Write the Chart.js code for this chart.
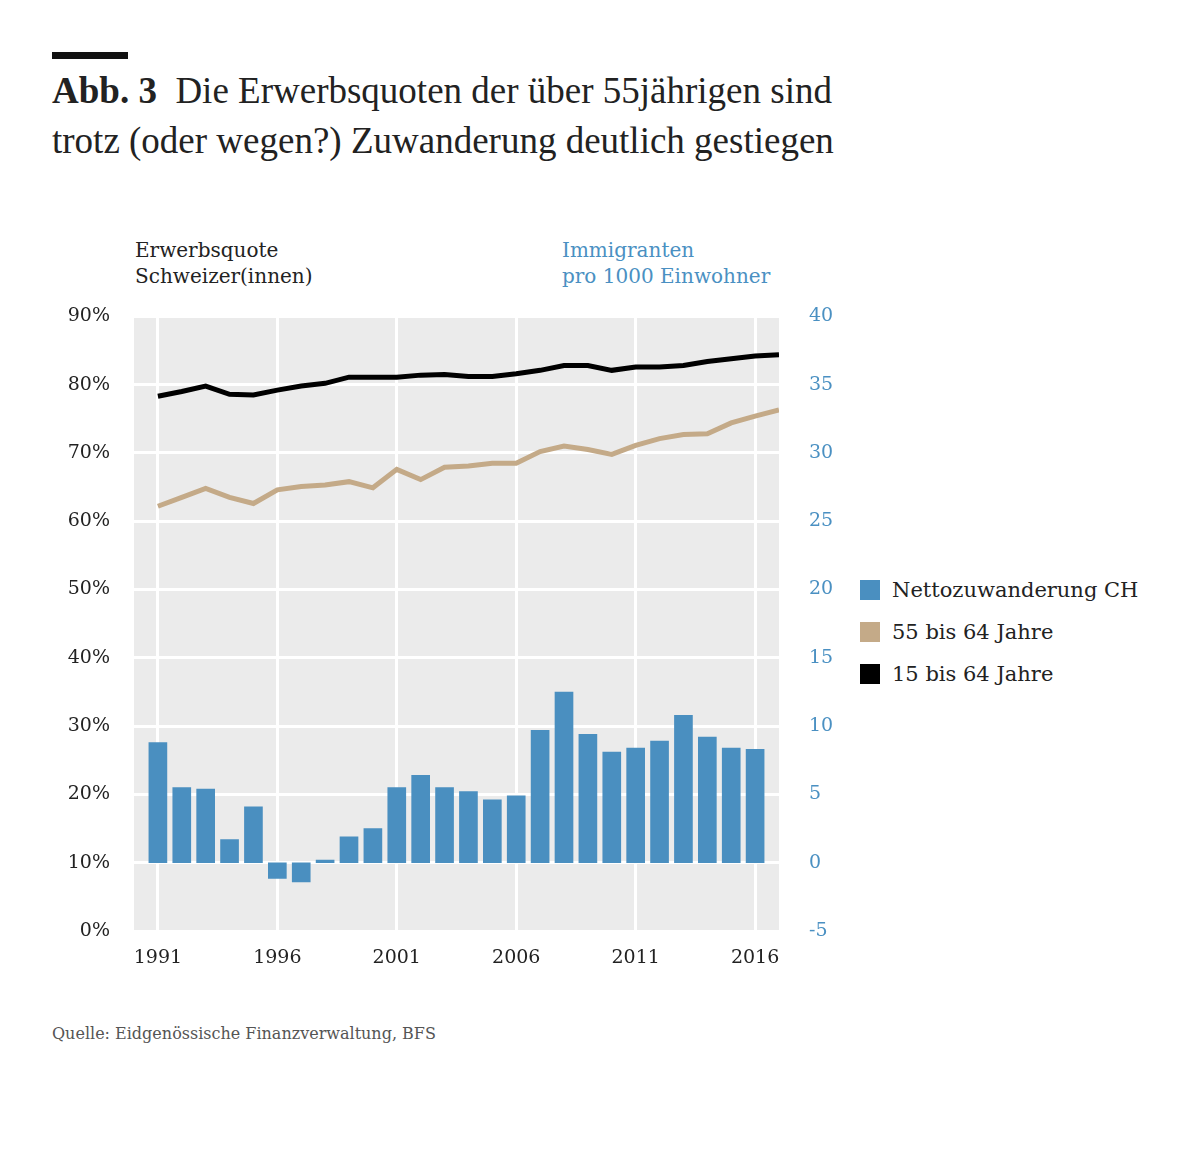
<!DOCTYPE html>
<html><head><meta charset="utf-8">
<script src="https://cdn.jsdelivr.net/npm/chart.js@4"></script>
<style>
body{margin:0;width:1204px;height:1174px;background:#fff;font-family:"DejaVu Serif",serif;position:relative;color:#222}
.abs{position:absolute}
#bar{left:52px;top:52px;width:76px;height:7px;background:#111}
#title{left:52px;top:66px;line-height:50px;font-family:"Liberation Serif",serif;font-size:37px}
#lt{left:135px;top:237px;font-size:20px;line-height:26px}
#rt{left:562px;top:237px;font-size:20px;line-height:26px;color:#4a90c2}
#src{left:52px;top:1024px;font-size:16px;color:#555}
.leg{left:860px;font-size:21px}
.leg span{display:inline-block;width:20px;height:20px;margin-right:12px;vertical-align:-3px}
#wrap{left:50px;top:281px;width:800px;height:710px}
</style></head><body>
<div class="abs" id="bar"></div>
<div class="abs" id="title"><b>Abb. 3</b>&nbsp; Die Erwerbsquoten der über 55jährigen sind<br>trotz (oder wegen?) Zuwanderung deutlich gestiegen</div>
<div class="abs" id="lt">Erwerbsquote<br>Schweizer(innen)</div>
<div class="abs" id="rt">Immigranten<br>pro 1000 Einwohner</div>
<div class="abs leg" style="top:578px"><span style="background:#4a8fc0"></span>Nettozuwanderung CH</div>
<div class="abs leg" style="top:620px"><span style="background:#c4aa88"></span>55 bis 64 Jahre</div>
<div class="abs leg" style="top:662px"><span style="background:#000"></span>15 bis 64 Jahre</div>
<div class="abs" id="src">Quelle: Eidgenössische Finanzverwaltung, BFS</div>
<div class="abs" id="wrap"><canvas id="c"></canvas></div>
<script>
const years=[1991,1992,1993,1994,1995,1996,1997,1998,1999,2000,2001,2002,2003,2004,2005,2006,2007,2008,2009,2010,2011,2012,2013,2014,2015,2016,2017]
const q15=[78.3,79.0,79.8,78.6,78.5,79.2,79.8,80.2,81.1,81.1,81.1,81.4,81.5,81.2,81.2,81.6,82.1,82.8,82.8,82.1,82.6,82.6,82.8,83.4,83.8,84.2,84.4]
const q55=[62.2,63.5,64.8,63.5,62.6,64.6,65.1,65.3,65.8,64.9,67.6,66.1,67.9,68.1,68.5,68.5,70.2,71.0,70.5,69.8,71.1,72.1,72.7,72.8,74.4,75.4,76.3]
const netto=[8.8,5.5,5.4,1.7,4.1,-1.15,-1.4,0.2,1.9,2.5,5.5,6.4,5.5,5.2,4.6,4.9,9.7,12.5,9.4,8.1,8.4,8.9,10.8,9.2,8.4,8.3]
const xTicks=[1991,1996,2001,2006,2011,2016]

const bg={id:"bg",beforeDraw(ch){const a=ch.chartArea,c=ch.ctx;c.save();c.fillStyle="#ebebeb";c.fillRect(a.left,a.top,a.right-a.left,a.bottom-a.top);c.restore()}}
const font={family:"DejaVu Serif",size:19}
new Chart("c",{
  data:{datasets:[
    {type:"line",data:years.map((y,i)=>({x:y,y:q15[i]})),borderColor:"#000",borderWidth:5,pointRadius:0,yAxisID:"y",order:0},
    {type:"line",data:years.map((y,i)=>({x:y,y:q55[i]})),borderColor:"#c4aa88",borderWidth:5,pointRadius:0,yAxisID:"y",order:1},
    {type:"bar",data:netto.map((v,i)=>({x:years[i],y:v})),backgroundColor:"#4a8fc0",barThickness:18,yAxisID:"y2",order:2}
  ]},
  options:{responsive:true,maintainAspectRatio:false,animation:false,
    layout:{padding:0},
    plugins:{legend:{display:false},tooltip:{enabled:false}},
    scales:{
      x:{type:"linear",min:1990,max:2017,offset:false,
        afterBuildTicks(s){s.ticks=xTicks.map(v=>({value:v}))},
        afterFit(s){s.height=60},
        grid:{color:"#fff",lineWidth:3,drawTicks:false,offset:false},border:{display:false},
        ticks:{font,color:"#222",padding:16,maxRotation:0,callback:v=>String(v)}},
      y:{position:"left",min:0,max:90,afterFit(s){s.width=84},
        grid:{color:"#fff",lineWidth:3,drawTicks:false},border:{display:false},
        ticks:{stepSize:10,font,color:"#222",padding:24,callback:v=>v+"%"}},
      y2:{position:"right",min:-5,max:40,afterFit(s){s.width=71},
        grid:{display:false},border:{display:false},
        ticks:{stepSize:5,font,color:"#4a90c2",padding:22}}
    }},
  plugins:[bg]
})
</script>
</body></html>
